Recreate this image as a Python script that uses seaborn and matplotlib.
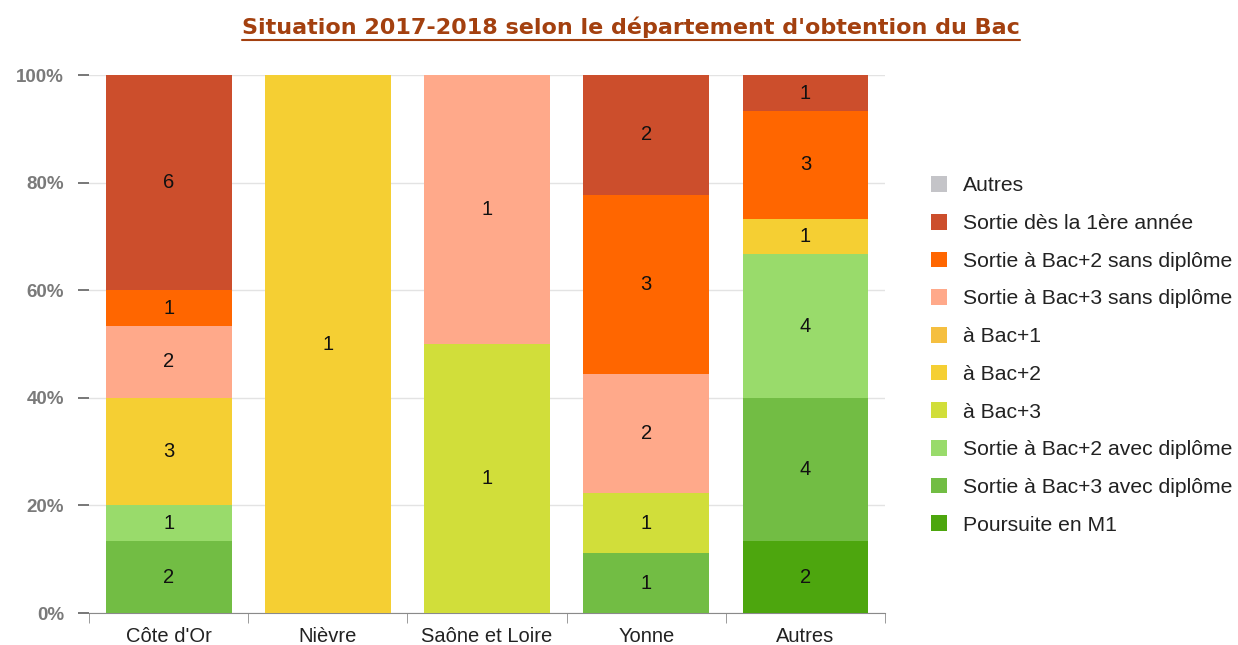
import numpy as np
import pandas as pd
import matplotlib
matplotlib.use("Agg")
import matplotlib.pyplot as plt
import seaborn as sns
from matplotlib.patches import Patch
from matplotlib.lines import Line2D

departements = ["Côte d'Or", "Nièvre", "Saône et Loire", "Yonne", "Autres"]

# legend order (top of the stack first)
situations = ["Autres", "Sortie dès la 1ère année", "Sortie à Bac+2 sans diplôme",
              "Sortie à Bac+3 sans diplôme", "à Bac+1", "à Bac+2", "à Bac+3",
              "Sortie à Bac+2 avec diplôme", "Sortie à Bac+3 avec diplôme",
              "Poursuite en M1"]
couleurs = ["#C4C4C8", "#CC4E2C", "#FF6600", "#FFA98A", "#F5BF40", "#F5CF33",
            "#D1DE3A", "#99DB6B", "#72BD44", "#4DA60E"]

# effectifs par département (Côte d'Or, Nièvre, Saône et Loire, Yonne, Autres)
autres        = [0, 0, 0, 0, 0]
sortie_1ere   = [6, 0, 0, 2, 1]
bac2_sans     = [1, 0, 0, 3, 3]
bac3_sans     = [2, 0, 1, 2, 0]
a_bac1        = [0, 0, 0, 0, 0]
a_bac2        = [3, 1, 0, 0, 1]
a_bac3        = [0, 0, 1, 1, 0]
bac2_avec     = [1, 0, 0, 0, 4]
bac3_avec     = [2, 0, 0, 1, 4]
poursuite_m1  = [0, 0, 0, 0, 2]

df = pd.DataFrame([autres, sortie_1ere, bac2_sans, bac3_sans, a_bac1, a_bac2,
                   a_bac3, bac2_avec, bac3_avec, poursuite_m1],
                  index=situations, columns=departements).T
frac = df.div(df.sum(axis=1), axis=0) * 100

sns.set_style("white")
plt.rcParams['font.family'] = ['Liberation Sans', 'DejaVu Sans']

fig = plt.figure(figsize=(12.38, 6.45), dpi=100)
ax = fig.add_axes([0.0719, 0.0496, 0.643, 0.834])

bottom = np.zeros(len(departements))
for sit, col in zip(situations[::-1], couleurs[::-1]):
    vals = frac[sit].values
    sns.barplot(x=departements, y=vals, bottom=bottom, color=col, width=0.79,
                saturation=1, linewidth=0, ax=ax, zorder=3)
    labels = [str(v) if v > 0 else "" for v in df[sit].values]
    ax.bar_label(ax.containers[-1], labels=labels, label_type="center",
                 fontsize=14.5, color="#111111")
    bottom = bottom + vals

ax.set_ylim(0, 100)
ax.set_xlim(-0.5, len(departements) - 0.5)
ax.set_yticks([0, 20, 40, 60, 80, 100])
ax.set_yticklabels(["0%", "20%", "40%", "60%", "80%", "100%"],
                   fontweight="bold", color="#7a7a7a", fontsize=13.5)
ax.grid(axis="y", color="#e3e3e3", linewidth=1, zorder=0)
ax.set_axisbelow(True)
for s in ["top", "right", "left"]:
    ax.spines[s].set_visible(False)
ax.spines["bottom"].set_color("#8a8a8a")
ax.tick_params(axis="y", left=True, length=8, width=1.2, color="#606060", pad=10)
ax.tick_params(axis="x", which="major", length=0, pad=10, labelsize=14.5,
               labelcolor="#222222")
ax.set_xticks(np.arange(-0.5, len(departements)), minor=True)
ax.tick_params(axis="x", which="minor", bottom=True, length=7, color="#8a8a8a")
ax.set_xlabel("")
ax.set_ylabel("")

handles = [Patch(facecolor=c, edgecolor="none") for c in couleurs]
fig.legend(handles, situations, loc="upper left", bbox_to_anchor=(0.7367, 0.756),
           frameon=False, fontsize=15.2, handlelength=0.75, handleheight=0.75,
           labelspacing=0.88, handletextpad=0.75, labelcolor="#222222")

title = fig.text(0.51, 0.958, "Situation 2017-2018 selon le département d'obtention du Bac",
                 ha="center", va="center", fontsize=16, fontweight="bold",
                 color="#A3400F", family=["DejaVu Sans"])
fig.canvas.draw()
bb = title.get_window_extent().transformed(fig.transFigure.inverted())
fig.add_artist(Line2D([bb.x0, bb.x1], [bb.y0 - 0.004, bb.y0 - 0.004],
                      transform=fig.transFigure, color="#A3400F", linewidth=1.5))

fig.savefig("out.png", dpi=100, facecolor="white")
